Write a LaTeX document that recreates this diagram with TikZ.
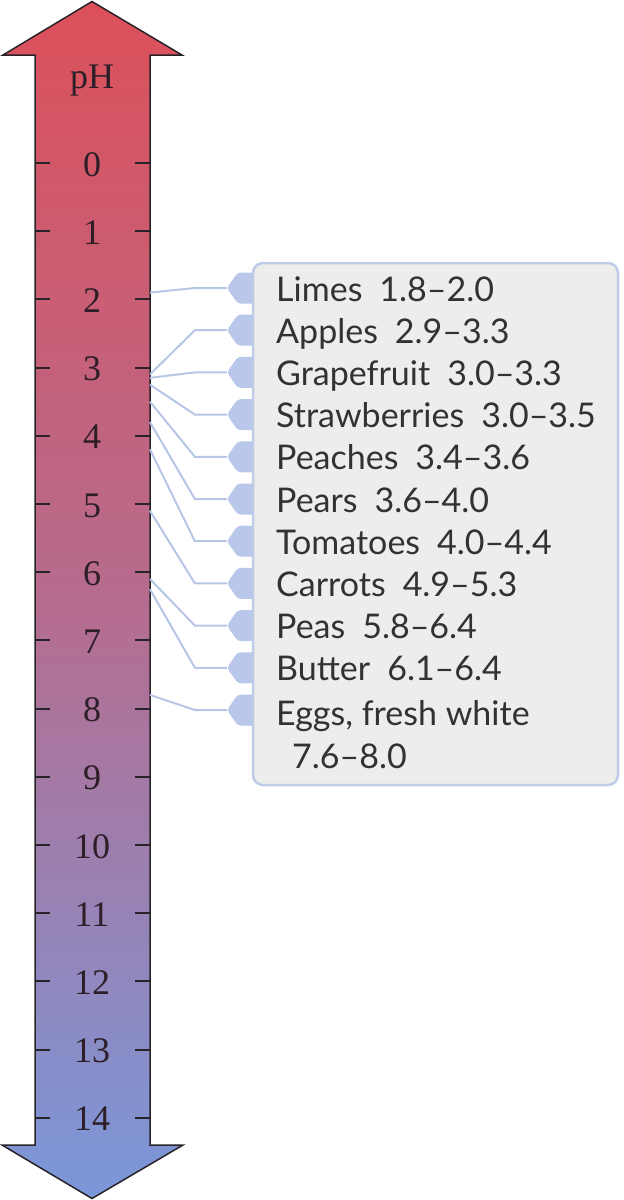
\documentclass[tikz,border=0pt]{standalone}
\usepackage{fontspec}
\setmainfont{Liberation Serif}
\newfontfamily\labfont{Lato}
\usetikzlibrary{shapes.symbols,calc}
\definecolor{arrtop}{RGB}{220,80,90}
\definecolor{arrmid}{RGB}{182,108,142}
\definecolor{arrbot}{RGB}{122,152,218}
\definecolor{outl}{RGB}{40,35,40}
\definecolor{boxfill}{RGB}{237,237,235}
\definecolor{boxline}{RGB}{190,204,232}
\definecolor{padcol}{RGB}{185,200,234}
\definecolor{linkcol}{RGB}{183,198,230}
\definecolor{txt}{RGB}{50,50,50}
\definecolor{numcol}{RGB}{45,30,40}
\newcommand\gapsp{\hspace{0.5em}}
\tikzset{
  tickmark/.style={draw=outl,line width=2},
  numlabel/.style={anchor=base,inner sep=0,text=numcol,font=\fontsize{36}{40}\selectfont},
  pad/.style={shape=signal,signal to=west,signal pointer angle=110,fill=padcol,draw=padcol,
    line width=1,rounded corners=3,minimum width=29,minimum height=30,inner sep=0,anchor=east},
  link/.style={draw=linkcol,line width=2,line join=round},
  food/.style={anchor=base west,inner sep=0,text=txt,font=\labfont\fontsize{34}{38}\selectfont},
}
\begin{document}
\begin{tikzpicture}[x=1pt,y=-1pt]
\useasboundingbox (0,0) rectangle (624,1200);
% arrow
\shadedraw[top color=arrtop,bottom color=arrbot,middle color=arrmid,draw=outl,line width=1.5,line join=miter]
  (92,1.5) -- (182,55) -- (150,55) -- (150,1145) -- (183,1145) -- (92,1198.5)
  -- (2,1145) -- (35,1145) -- (35,55) -- (3,55) -- cycle;
\node[numlabel] (ph) at (92,88) {pH};
\foreach \n in {0,...,14}{
  \draw[tickmark] (35,{163+68.2*\n}) -- ++(15,0);
  \draw[tickmark] (135,{163+68.2*\n}) -- ++(15,0);
  \node[numlabel] (n\n) at (92,{163+68.2*\n+13}) {\n};
}
% connectors
\foreach \i/\v in {0/1.9,1/3.1,2/3.15,3/3.25,4/3.5,5/3.8,6/4.2,7/5.1,8/6.1,9/6.25,10/7.8}{
  \node[pad] (p\i) at (257,{288+42.2*\i}) {};
  \coordinate (s\i) at (150,{163+68.2*\v});
  \draw[link] (s\i) -- ([xshift=-32]p\i.west) -- (p\i.west);
}
% box
\draw[draw=boxline,fill=boxfill,line width=2.5,rounded corners=10] (253,263) rectangle (618,785);
\foreach \i/\t in {0/Limes\gapsp 1.8–2.0,1/Apples\gapsp 2.9–3.3,2/Grapefruit\gapsp 3.0–3.3,3/Strawberries\gapsp 3.0–3.5,
  4/Peaches\gapsp 3.4–3.6,5/Pears\gapsp 3.6–4.0,6/Tomatoes\gapsp 4.0–4.4,7/Carrots\gapsp 4.9–5.3,8/Peas\gapsp 5.8–6.4,9/Butter\gapsp 6.1–6.4}{
  \node[food] (f\i) at (276,{288+42.2*\i+13}) {\t};
}
\node[food] (f10) at (276,{288+42.2*10+15}) {Eggs, fresh white};
\node[food] (f10b) at (292,768) {7.6–8.0};
\end{tikzpicture}
\end{document}
